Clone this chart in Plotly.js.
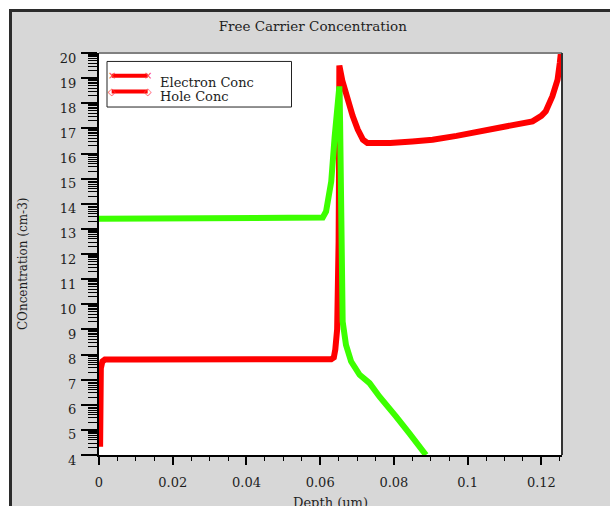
<!DOCTYPE html>
<html>
<head>
<meta charset="utf-8">
<script src="https://cdn.plot.ly/plotly-3.0.1.min.js"></script>
<style>
  html, body { margin: 0; padding: 0; background: #ffffff; width: 610px; height: 506px; overflow: hidden; }
  #frame { position: absolute; left: 9px; top: 9px; width: 601px; height: 497px; box-sizing: border-box;
           border-left: 3px solid #2b2b2b; border-top: 3px solid #2b2b2b; background: #d7d7d7; }
  #chart { position: absolute; left: 12px; top: 12px; width: 598px; height: 494px; }
</style>
</head>
<body>
<div id="frame"></div>
<div id="chart"></div>
<script>
// ---- data ----
const seriesNames = ["Electron Conc", "Hole Conc"];

const electronDepth = [0.0003, 0.0003, 0.0005, 0.0009, 0.0016, 0.0100, 0.0250, 0.0400, 0.0550, 0.0630,
  0.0637, 0.0641, 0.0646, 0.0649, 0.0650, 0.0651, 0.0651, 0.0652, 0.0660, 0.0672, 0.0688, 0.0702,
  0.0716, 0.0728, 0.0760, 0.0790, 0.0850, 0.0905, 0.0970, 0.1041, 0.1110, 0.1176, 0.1200, 0.1212,
  0.1230, 0.1244, 0.1250, 0.1253];
const electronConc = [4.33, 6.0, 7.45, 7.72, 7.80, 7.80, 7.81, 7.80, 7.80, 7.81,
  7.88, 8.2, 9.0, 10.5, 12.5, 15.0, 18.0, 19.5, 18.9, 18.2, 17.5, 16.95,
  16.55, 16.42, 16.40, 16.42, 16.48, 16.55, 16.70, 16.88, 17.07, 17.28, 17.50, 17.68,
  18.28, 18.94, 19.6, 20.0];

const holeDepth = [0.0000, 0.0200, 0.0400, 0.0600, 0.0607, 0.0616, 0.0630, 0.0639, 0.0648, 0.0652,
  0.0654, 0.0655, 0.0657, 0.0661, 0.0670, 0.0684, 0.0707, 0.0734, 0.0761, 0.0788, 0.0806,
  0.0842, 0.0865, 0.0887];
const holeConc = [13.40, 13.40, 13.40, 13.40, 13.45, 13.69, 14.89, 16.62, 18.34, 18.67,
  17.28, 14.63, 11.97, 9.31, 8.38, 7.72, 7.19, 6.86, 6.32, 5.79, 5.53,
  4.86, 4.45, 4.00];

const xTickVals = [0, 0.02, 0.04, 0.06, 0.08, 0.1, 0.12];
const xTickText = ["0", "0.02", "0.04", "0.06", "0.08", "0.1", "0.12"];
const yTickVals = [4,5,6,7,8,9,10,11,12,13,14,15,16,17,18,19,20];

// ---- styling ----
const serif = "DejaVu Serif, serif";
const RED = "#ff0000", GREEN = "#3cff00";
const TXT = "#1e1e1e";

// minor ticks on the exponent axis at log10(2..9) within each decade
const yMinor = [];
for (let i = 0; i < yTickVals.length - 1; i++) {
  for (let k = 2; k <= 9; k++) yMinor.push(yTickVals[i] + Math.log10(k));
}

const traces = [
  { x: electronDepth, y: electronConc, type: "scatter", mode: "lines", name: seriesNames[0],
    line: { color: RED, width: 6 }, showlegend: false, hoverinfo: "skip" },
  { x: holeDepth, y: holeConc, type: "scatter", mode: "lines", name: seriesNames[1],
    line: { color: GREEN, width: 6 }, showlegend: false, hoverinfo: "skip" }
];

// legend box (drawn as shapes + text, both entries red as in the reference)
const legendRows = [
  { yLine: 0.9435, yText: 0.9278 },
  { yLine: 0.9044, yText: 0.892 }
];
const shapes = [
  { type: "line", xref: "paper", yref: "paper", x0: 0, x1: 1, y0: 1, y1: 1, line: { color: "#808080", width: 2 } },
  { type: "line", xref: "paper", yref: "paper", x0: 1, x1: 1, y0: 0, y1: 1, line: { color: "#333333", width: 2 } },
  { type: "rect", xref: "paper", yref: "paper", x0: 0.0173, x1: 0.4158, y0: 0.8656, y1: 0.979,
    fillcolor: "#ffffff", line: { color: "#222222", width: 1 }, layer: "above" }
];
const annotations = [
  { text: "COncentration (cm-3)", textangle: -90, xref: "paper", yref: "paper",
    x: -0.164, y: 0.475, xanchor: "center", yanchor: "middle", showarrow: false,
    font: { family: serif, size: 12, color: TXT } },
  { text: "Depth (um)", xref: "paper", yref: "paper", x: 0.5, y: -0.119,
    xanchor: "center", yanchor: "middle", showarrow: false,
    font: { family: serif, size: 13, color: TXT } }
];
seriesNames.forEach((nm, i) => {
  const r = legendRows[i];
  shapes.push({ type: "line", xref: "paper", yref: "paper", x0: 0.0274, x1: 0.1051, y0: r.yLine, y1: r.yLine,
                line: { color: RED, width: 4 }, layer: "above" });
  [0.0274, 0.1051].forEach(xe => annotations.push({
    text: i === 0 ? "×" : "◇", xref: "paper", yref: "paper", x: xe, y: r.yLine,
    xanchor: "center", yanchor: "middle", showarrow: false,
    font: { family: "DejaVu Sans, sans-serif", size: 10, color: "#ff4040" } }));
  annotations.push({ text: nm, xref: "paper", yref: "paper", x: 0.127, y: r.yText,
    xanchor: "left", yanchor: "middle", showarrow: false,
    font: { family: serif, size: 13, color: TXT } });
});

const layout = {
  width: 598, height: 494,
  margin: { l: 87, r: 48, t: 41, b: 51 },
  paper_bgcolor: "#d7d7d7",
  plot_bgcolor: "#ffffff",
  font: { family: serif, size: 13, color: TXT },
  title: { text: "Free Carrier Concentration", font: { family: serif, size: 13.5, color: TXT },
           x: 0.503, xref: "container", y: 0.972, yref: "container", xanchor: "center", yanchor: "middle" },
  xaxis: {
    range: [0, 0.1256], fixedrange: true,
    tickmode: "array", tickvals: xTickVals, ticktext: xTickText,
    ticks: "outside", ticklen: 8, tickwidth: 2, tickcolor: "#000000",
    ticklabelstandoff: 6,
    showline: true, linecolor: "#000000", linewidth: 2,
    showgrid: false, zeroline: false,
    tickfont: { family: serif, size: 13, color: TXT },
    minor: { dtick: 0.005, tick0: 0, ticks: "outside", ticklen: 4, tickwidth: 1, tickcolor: "#000000", showgrid: false }
  },
  yaxis: {
    range: [4, 20], fixedrange: true,
    tickmode: "array", tickvals: yTickVals, ticktext: yTickVals.map(String),
    ticks: "outside", ticklen: 16, tickwidth: 2, tickcolor: "#000000",
    ticklabelstandoff: 2, ticklabelshift: 5,
    showline: true, linecolor: "#000000", linewidth: 2,
    showgrid: false, zeroline: false,
    tickfont: { family: serif, size: 13, color: TXT },
    minor: { tickmode: "array", tickvals: yMinor, ticks: "outside", ticklen: 9, tickwidth: 1, tickcolor: "#000000", showgrid: false }
  },
  showlegend: false,
  shapes: shapes,
  annotations: annotations
};

Plotly.newPlot("chart", traces, layout, { staticPlot: true, displayModeBar: false });
</script>
</body>
</html>
